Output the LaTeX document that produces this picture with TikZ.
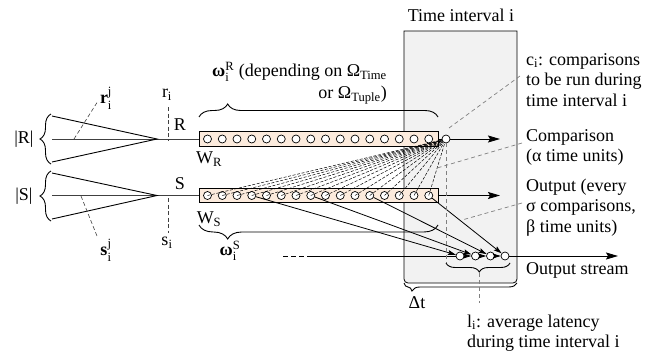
\documentclass[tikz,border=0pt]{standalone}
\usepackage{fontspec}
\usepackage{amsmath}
\setmainfont{Liberation Serif}
\usetikzlibrary{arrows.meta,decorations.pathreplacing}
\definecolor{peach}{HTML}{FCEBDD}
\definecolor{boxgrey}{HTML}{F2F2F2}
\begin{document}
\begin{tikzpicture}[x=1pt,y=-1pt,
  font=\fontsize{18}{20.5}\selectfont,
  tup/.style={circle,draw,fill=white,minimum size=8pt,inner sep=0pt,line width=0.7pt},
  win/.style={draw,fill=peach,line width=0.8pt,minimum width=239pt,minimum height=14.5pt,inner sep=0pt},
  fan/.style={dash pattern=on 3pt off 1.6pt,line width=0.5pt},
  note/.style={gray,dash pattern=on 4pt off 3pt,line width=0.7pt},
  tickline/.style={black!75,dash pattern=on 4pt off 2.5pt,line width=0.6pt},
  arr/.style={-{Stealth[length=12pt,width=7pt,inset=2pt]},line width=0.9pt},
  sarr/.style={-{Stealth[length=8pt,width=5pt,inset=1.5pt]},line width=0.8pt},
  lab/.style={inner sep=0pt},
  inl/.style={black!75,line width=1pt},
  cvl/.style={black,line width=0.9pt},
  brc/.style={decorate,line width=0.9pt},
]
\useasboundingbox (0,0) rectangle (659,356);

% time interval box
\draw[fill=boxgrey,line width=0.8pt] (404,31) -- (404,200) [rounded corners=4pt] -- (404,283) -- (517,283) -- (517,200) [sharp corners] -- (517,31) -- cycle;
\node[lab] (tit) at (461,15) {Time interval i};

% windows
\node[win] (wr) at (318.5,139) {};
\node[win] (ws) at (318.5,195.5) {};
\foreach \k in {0,...,15} {
  \node[tup] (r\k) at ({207.5+14.75*\k},139) {};
  \node[tup] (s\k) at ({207.5+14.75*\k},195.5) {};
}
\node[tup] (new) at (446,139) {};

% input streams
\coordinate (rin) at (52,139); \coordinate (rc) at (157,139);
\coordinate (rt) at (52,116);  \coordinate (rb) at (52,162);
\coordinate (sin) at (52,195.5); \coordinate (sc) at (157,195.5);
\coordinate (st) at (52,173);  \coordinate (sb) at (52,219);
\draw[inl] (rin) -- (wr.west);
\draw[inl] (sin) -- (ws.west);
\draw[cvl] (rt) -- (rc) -- (rb);
\draw[cvl] (st) -- (sc) -- (sb);

\draw[brc,decoration={brace,amplitude=11pt}] (51,164) -- (51,114);
\draw[brc,decoration={brace,amplitude=11pt}] (51,221) -- (51,171);
\node[lab] (rsize) at (24,139) {|R|};
\node[lab] (ssize) at (24,196) {|S|};

% r_i, s_i markers
\coordinate (ria) at (168,107); \coordinate (rib) at (168,141);
\coordinate (sia) at (168,198); \coordinate (sib) at (168,233);
\draw[tickline] (ria) -- (rib);
\draw[tickline] (sia) -- (sib);
\node[lab] (ril) at (167,95) {r$_\text{i}$};
\node[lab] (sil) at (167,243) {s$_\text{i}$};
\coordinate (rja) at (74,139); \coordinate (rjb) at (98,101);
\coordinate (sja) at (81,196); \coordinate (sjb) at (97,236);
\draw[tickline] (rja) -- (rjb);
\draw[tickline] (sja) -- (sjb);
\node[lab] (rij) at (106,98) {$\text{\textbf{r}}^{\text{j}}_{\text{i}}$};
\node[lab] (sij) at (106,250) {$\text{\textbf{s}}^{\text{j}}_{\text{i}}$};

\node[lab] (rlab) at (180,125) {R};
\node[lab] (slab) at (180,184) {S};
\node[lab] (wrl) at (209,159) {W$_\text{R}$};
\node[lab] (wsl) at (209,219) {W$_\text{S}$};

% window braces
\draw[brc,decoration={brace,amplitude=13pt,aspect=0.12}] (199,117) -- (438,117);
\draw[brc,decoration={brace,amplitude=14pt,aspect=0.88}] (438,225) -- (199,225);
\node[lab,anchor=east,align=right] (omr) at (387,83) {$\text{\textbf{ω}}^{\text{R}}_{\text{i}}$ (depending on Ω$_\text{Time}$\\[1pt]or Ω$_\text{Tuple}$)};
\node[lab] (oms) at (230,251) {$\text{\textbf{ω}}^{\text{S}}_{\text{i}}$};

% comparisons fan
\foreach \k in {0,...,15} {
  \draw[fan] (s\k.center) -- (new);
}

% output stream
\node[tup] (o1) at (460,256) {};
\node[tup] (o2) at (475.5,256) {};
\node[tup] (o3) at (490.5,256) {};
\node[tup] (o4) at (505,256) {};
\coordinate (od) at (283,256); \coordinate (os) at (312,256); \coordinate (oe) at (618,256);
\draw[line width=0.9pt,dash pattern=on 5pt off 3pt] (od) -- (os);
\draw[line width=0.9pt] (os) -- (o1);
\draw[sarr] (o1) -- (o2);
\draw[sarr] (o2) -- (o3);
\draw[sarr] (o3) -- (o4);
\draw[arr] (o4) -- (oe);
\draw[sarr] (s3) -- (o1);
\draw[sarr] (s7) -- (o2);
\draw[sarr] (s11) -- (o3);
\draw[sarr] (s15) -- (o4);

% stream arrows
\coordinate (re) at (500,139); \coordinate (se) at (500,195.5);
\draw[line width=0.9pt] (wr.east) -- (new);
\draw[arr] (new) -- (re);
\draw[arr] (ws.east) -- (se);

% latency marker
\coordinate (lv) at (446,263);
\draw[note] (new) -- (lv);
\draw[brc,decoration={brace,amplitude=9pt,aspect=0.48}] (510,263) -- (446,263);
\draw[brc,decoration={brace,amplitude=8pt,aspect=0.93}] (517,283) -- (404,283);
\node[lab] (dt) at (417,303) {Δt};
\coordinate (lt) at (479,273); \coordinate (lb) at (479,303);
\draw[note] (lt) -- (lb);
\node[lab,anchor=west,align=left] (lat) at (467,333) {l$_\text{i}$: average latency\\during time interval i};

% right annotations
\node[lab,anchor=west,align=left] (cil) at (526,80) {c$_\text{i}$: comparisons\\to be run during\\time interval i};
\node[lab,anchor=west,align=left] (cmp) at (526,147.5) {Comparison\\(α time units)};
\node[lab,anchor=west,align=left] (out) at (526,207.5) {Output (every\\σ comparisons,\\β time units)};
\node[lab,anchor=west] (ost) at (526,270) {Output stream};
\coordinate (cia) at (520,76); \coordinate (cib) at (449,128);
\coordinate (cpa) at (522,143); \coordinate (cpb) at (437,168);
\coordinate (opa) at (522,203); \coordinate (opb) at (462,220);
\draw[note] (cia) -- (cib);
\draw[note] (cpa) -- (cpb);
\draw[note] (opa) -- (opb);
\end{tikzpicture}
\end{document}
